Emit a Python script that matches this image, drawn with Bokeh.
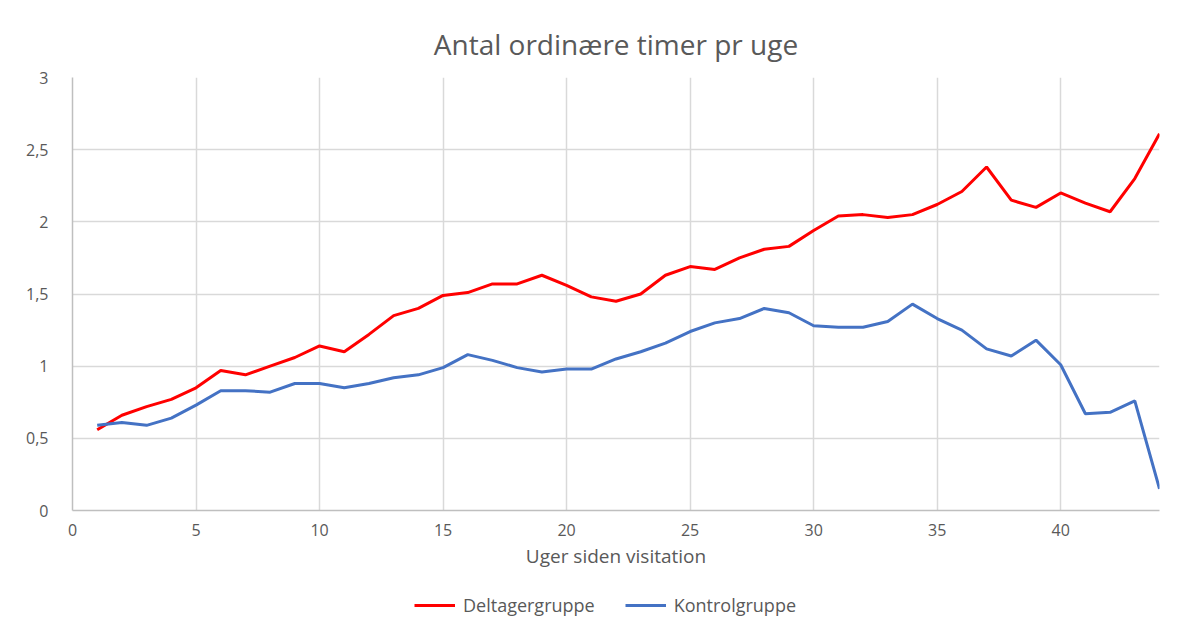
from bokeh.plotting import figure
from bokeh.models import Legend, LegendItem, Range1d, FixedTicker
from bokeh.layouts import column
from bokeh.embed import file_html
from bokeh.resources import INLINE

weeks = list(range(1, 45))
deltager = [0.56, 0.66, 0.72, 0.77, 0.85, 0.97, 0.94, 1.00, 1.06, 1.14,
            1.10, 1.22, 1.35, 1.40, 1.49, 1.51, 1.57, 1.57, 1.63, 1.56,
            1.48, 1.45, 1.50, 1.63, 1.69, 1.67, 1.75, 1.81, 1.83, 1.94,
            2.04, 2.05, 2.03, 2.05, 2.12, 2.21, 2.38, 2.15, 2.10, 2.20,
            2.13, 2.07, 2.30, 2.61]
kontrol = [0.59, 0.61, 0.59, 0.64, 0.73, 0.83, 0.83, 0.82, 0.88, 0.88,
           0.85, 0.88, 0.92, 0.94, 0.99, 1.08, 1.04, 0.99, 0.96, 0.98,
           0.98, 1.05, 1.10, 1.16, 1.24, 1.30, 1.33, 1.40, 1.37, 1.28,
           1.27, 1.27, 1.31, 1.43, 1.33, 1.25, 1.12, 1.07, 1.18, 1.01,
           0.67, 0.68, 0.76, 0.15]
x_ticks = [0, 5, 10, 15, 20, 25, 30, 35, 40]
y_ticks = [0, 0.5, 1, 1.5, 2, 2.5, 3]
y_labels = ["0", "0,5", "1", "1,5", "2", "2,5", "3"]

title_text = "Antal ordinære timer pr uge"
x_label = "Uger siden visitation"
series_names = ["Deltagergruppe", "Kontrolgruppe"]
colors = ["#ff0000", "#4472c4"]

FONT = "Open Sans"
GREY = "#595959"

p = figure(output_backend="svg", toolbar_location=None,
           x_range=Range1d(0, 44), y_range=Range1d(0, 3),
           frame_width=1087, frame_height=433,
           min_border_left=72, min_border_right=17, min_border_top=77, min_border_bottom=80)

p.title.text = title_text
p.title.text_font = FONT
p.title.text_font_size = "28px"
p.title.text_font_style = "normal"
p.title.text_color = GREY
p.title.align = "center"
p.title.standoff = 30

p.outline_line_color = None
p.background_fill_color = "white"
p.border_fill_color = "white"

p.xgrid.ticker = FixedTicker(ticks=x_ticks)
p.ygrid.ticker = FixedTicker(ticks=y_ticks)
p.xgrid.grid_line_color = "#d9d9d9"
p.ygrid.grid_line_color = "#d9d9d9"
p.xgrid.grid_line_width = 1.5
p.ygrid.grid_line_width = 1.5

p.xaxis.ticker = FixedTicker(ticks=x_ticks)
p.yaxis.ticker = FixedTicker(ticks=y_ticks)
p.yaxis.major_label_overrides = {t: l for t, l in zip(y_ticks, y_labels)}
for ax in (p.xaxis[0], p.yaxis[0]):
    ax.axis_line_color = "#bfbfbf"
    ax.axis_line_width = 1.5
    ax.major_tick_line_color = None
    ax.minor_tick_line_color = None
    ax.major_label_text_font = FONT
    ax.major_label_text_font_size = "16px"
    ax.major_label_text_color = GREY
p.xaxis.major_label_standoff = 7
p.yaxis.major_label_standoff = 18
p.xaxis.axis_label = x_label
p.xaxis.axis_label_text_font = FONT
p.xaxis.axis_label_text_font_size = "19px"
p.xaxis.axis_label_text_font_style = "normal"
p.xaxis.axis_label_text_color = GREY
p.xaxis.axis_label_standoff = 4

p.line(weeks, deltager, line_color=colors[0], line_width=3)
p.line(weeks, kontrol, line_color=colors[1], line_width=3)

# Legend strip below the chart (its data lies outside this strip's ranges,
# so only the legend entries are visible)
lg = figure(width=1176, height=30, output_backend="svg", toolbar_location=None,
            x_axis_type=None, y_axis_type=None,
            x_range=Range1d(100, 101), y_range=Range1d(100, 101),
            min_border=0)
lg.outline_line_color = None
lg.grid.visible = False
g1 = lg.line(weeks, deltager, line_color=colors[0], line_width=3)
g2 = lg.line(weeks, kontrol, line_color=colors[1], line_width=3)
legend = Legend(items=[LegendItem(label=series_names[0], renderers=[g1]),
                       LegendItem(label=series_names[1], renderers=[g2])],
                orientation="horizontal", location=(342, 3),
                label_text_font=FONT, label_text_font_size="18px",
                label_text_color=GREY, border_line_color=None,
                background_fill_alpha=0,
                glyph_width=41, spacing=30, margin=0, padding=0,
                label_standoff=8)
lg.add_layout(legend, "center")

layout = column(p, lg, spacing=0)
open("out.html", "w").write(file_html(layout, INLINE))
